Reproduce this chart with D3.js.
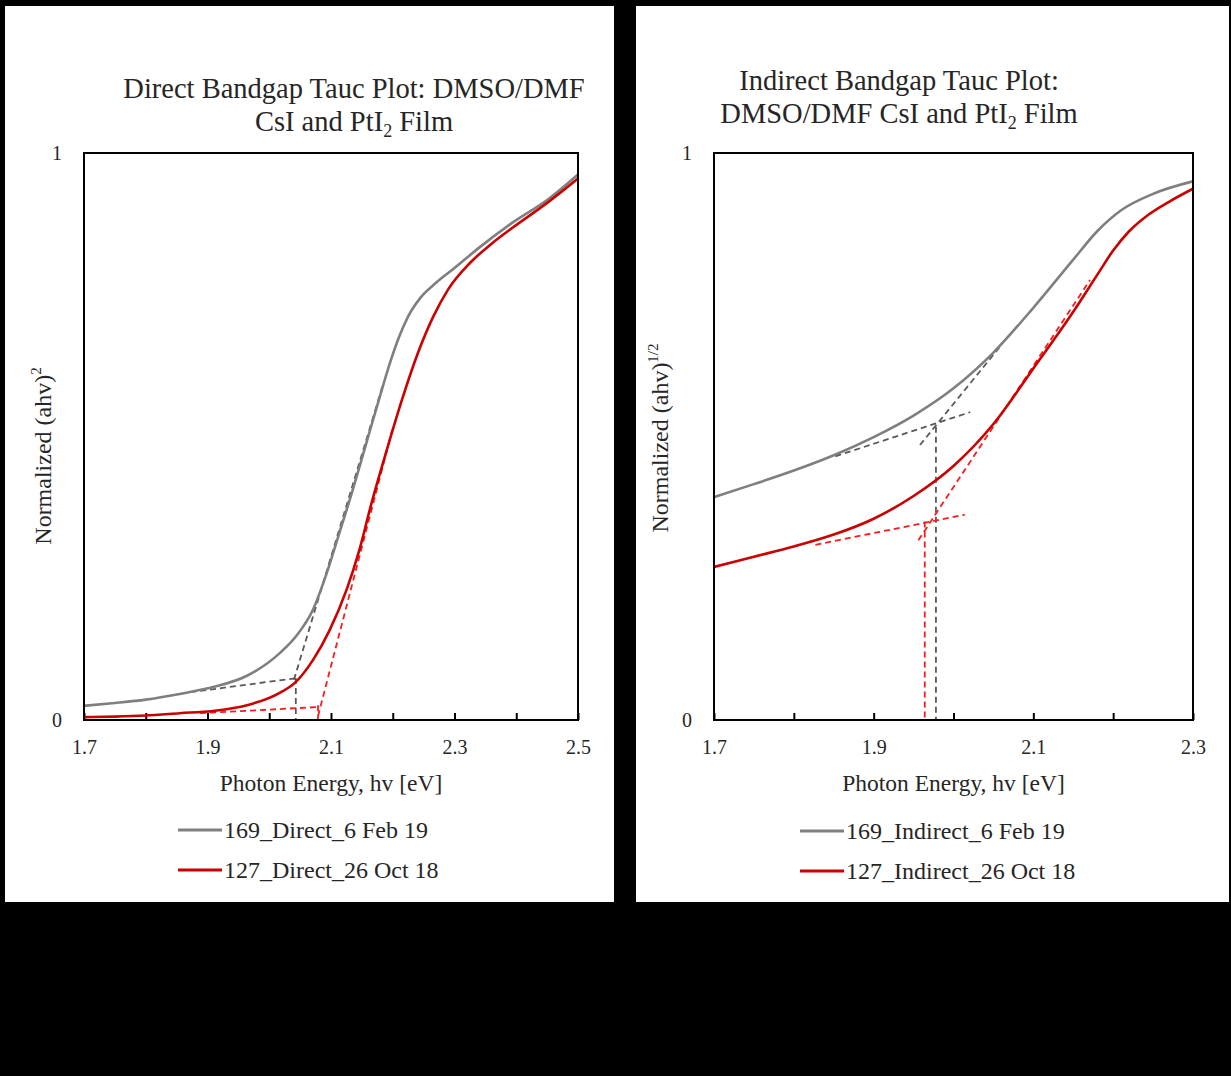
<!DOCTYPE html>
<html>
<head>
<meta charset="utf-8">
<script src="https://cdn.jsdelivr.net/npm/d3@7"></script>
<style>
  body { margin: 0; background: #000; }
  svg { display: block; }
  text { font-family: "Liberation Serif", "DejaVu Serif", serif; fill: #262626; }
</style>
</head>
<body>
<svg id="chart" width="1231" height="1076"></svg>
<script>
// direct bandgap (ahv)^2, normalized
const directGrayE = [1.70, 1.75, 1.80, 1.855, 1.909, 1.964, 2.017, 2.045, 2.071, 2.094, 2.115, 2.135, 2.155, 2.179, 2.195, 2.21, 2.225, 2.245, 2.27, 2.30, 2.341, 2.395, 2.45, 2.50];
const directGrayY = [0.025, 0.030, 0.036, 0.046, 0.058, 0.078, 0.118, 0.150, 0.195, 0.262, 0.335, 0.405, 0.480, 0.570, 0.628, 0.675, 0.712, 0.745, 0.771, 0.797, 0.834, 0.878, 0.917, 0.962];
const directRedE = [1.70, 1.75, 1.80, 1.855, 1.909, 1.964, 2.017, 2.041, 2.071, 2.098, 2.125, 2.146, 2.165, 2.19, 2.215, 2.24, 2.265, 2.29, 2.325, 2.36, 2.395, 2.45, 2.50];
const directRedY = [0.005, 0.006, 0.008, 0.012, 0.016, 0.026, 0.048, 0.065, 0.106, 0.159, 0.229, 0.300, 0.380, 0.475, 0.565, 0.645, 0.710, 0.760, 0.806, 0.840, 0.869, 0.912, 0.955];

// indirect bandgap (ahv)^1/2, normalized
const indirectGrayE = [1.70, 1.75, 1.80, 1.85, 1.90, 1.95, 2.00, 2.05, 2.10, 2.15, 2.18, 2.21, 2.25, 2.30];
const indirectGrayY = [0.393, 0.416, 0.440, 0.467, 0.499, 0.537, 0.585, 0.648, 0.727, 0.812, 0.862, 0.899, 0.928, 0.950];
const indirectRedE = [1.70, 1.75, 1.80, 1.85, 1.90, 1.95, 2.00, 2.05, 2.10, 2.15, 2.18, 2.20, 2.22, 2.245, 2.27, 2.30];
const indirectRedY = [0.270, 0.288, 0.306, 0.327, 0.355, 0.395, 0.448, 0.522, 0.620, 0.720, 0.785, 0.828, 0.862, 0.892, 0.914, 0.937];

// tangent / fit lines [e1, y1, e2, y2]
const directGrayFits = [[1.872, 0.049, 2.045, 0.074], [2.040, 0.071, 2.184, 0.591], [2.043, 0.074, 2.043, 0]];
const directRedFits = [[1.888, 0.012, 2.082, 0.023], [2.079, 0.007, 2.200, 0.515], [2.079, 0.026, 2.079, 0]];
const indirectGrayFits = [[1.852, 0.465, 2.021, 0.543], [1.958, 0.485, 2.058, 0.658], [1.978, 0.517, 1.978, 0]];
const indirectRedFits = [[1.827, 0.309, 2.014, 0.362], [1.956, 0.317, 2.171, 0.776], [1.964, 0.350, 1.964, 0]];

const directTicks = [1.7, 1.8, 1.9, 2.0, 2.1, 2.2, 2.3, 2.4, 2.5];
const directLabels = [1.7, 1.9, 2.1, 2.3, 2.5];
const indirectTicks = [1.7, 1.8, 1.9, 2.0, 2.1, 2.2, 2.3];
const indirectLabels = [1.7, 1.9, 2.1, 2.3];

const gray = "#7f7f7f", red = "#cc0000";
const grayDash = "#595959", redDash = "#ff1a1a";

const svg = d3.select("#chart");

// white panels on black background
svg.append("rect").attr("x", 5).attr("y", 6).attr("width", 609).attr("height", 896).attr("fill", "#fff");
svg.append("rect").attr("x", 636).attr("y", 6).attr("width", 593).attr("height", 896).attr("fill", "#fff");

function drawPanel(p) {
  const x = d3.scaleLinear().domain(p.xDomain).range([p.left, p.right]);
  const y = d3.scaleLinear().domain([0, 1]).range([p.bottom, p.top]);
  const g = svg.append("g");

  // title
  p.title.forEach((line, i) => {
    const t = g.append("text").attr("x", p.titleX).attr("y", p.titleY + i * 33)
      .attr("text-anchor", "middle").style("font-size", "28.5px");
    line.forEach(part => {
      const ts = t.append("tspan").text(part.t);
      if (part.sub) ts.attr("dy", 6).style("font-size", "18px");
      if (part.after) ts.attr("dy", -6);
    });
  });

  const clipId = "clip" + p.id;
  g.append("clipPath").attr("id", clipId).append("rect")
    .attr("x", p.left).attr("y", p.top).attr("width", p.right - p.left).attr("height", p.bottom - p.top);

  // x axis with inner ticks
  const xAxis = d3.axisBottom(x).tickValues(p.ticks).tickSize(-7).tickPadding(20)
    .tickFormat(d => p.labels.some(l => Math.abs(l - d) < 1e-9) ? d3.format(".1f")(d) : "");
  const ax = g.append("g").attr("transform", `translate(0,${p.bottom})`).call(xAxis);
  ax.select(".domain").remove();
  ax.selectAll("line").attr("stroke", "#000").attr("stroke-width", 2);
  ax.selectAll("text").style("font-size", "20px").style("font-family", "Liberation Serif").attr("fill", "#262626");

  const yAxis = d3.axisLeft(y).tickValues([0, 1]).tickSize(0).tickPadding(22).tickFormat(d3.format("d"));
  const ay = g.append("g").attr("transform", `translate(${p.left},0)`).call(yAxis);
  ay.select(".domain").remove();
  ay.selectAll("text").style("font-size", "20px").style("font-family", "Liberation Serif").attr("fill", "#262626");

  const plot = g.append("g").attr("clip-path", `url(#${clipId})`);

  // tangent lines
  const fit = (arr, color) => plot.selectAll(null).data(arr).enter().append("line")
    .attr("x1", d => x(d[0])).attr("y1", d => y(d[1]))
    .attr("x2", d => x(d[2])).attr("y2", d => y(d[3]))
    .attr("stroke", color).attr("stroke-width", 1.8).attr("stroke-dasharray", "6,4");
  fit(p.grayFits, grayDash);
  fit(p.redFits, redDash);

  const line = d3.line().x(d => x(d[0])).y(d => y(d[1])).curve(d3.curveMonotoneX);
  const series = [
    { e: p.grayE, v: p.grayY, c: gray },
    { e: p.redE, v: p.redY, c: red }
  ];
  series.forEach(s => {
    plot.append("path").datum(s.e.map((e, i) => [e, s.v[i]]))
      .attr("fill", "none").attr("stroke", s.c).attr("stroke-width", 2.6).attr("d", line);
  });

  // frame
  g.append("rect").attr("x", p.left).attr("y", p.top)
    .attr("width", p.right - p.left).attr("height", p.bottom - p.top)
    .attr("fill", "none").attr("stroke", "#000").attr("stroke-width", 2);

  // axis titles
  const cx = (p.left + p.right) / 2;
  g.append("text").attr("x", cx).attr("y", p.bottom + 71).attr("text-anchor", "middle")
    .style("font-size", "23.5px").text("Photon Energy, hv [eV]");

  const yl = g.append("text").attr("transform", `translate(${p.yLabelX},${p.yLabelY}) rotate(-90)`)
    .attr("text-anchor", "middle").style("font-size", "24px");
  yl.append("tspan").text("Normalized (ahv)");
  yl.append("tspan").attr("dy", -10).style("font-size", "15px").text(p.yExp);

  // legend
  p.legend.forEach((name, i) => {
    const ly = p.legendY + i * 40;
    g.append("line").attr("x1", p.legendX).attr("x2", p.legendX + 44).attr("y1", ly).attr("y2", ly)
      .attr("stroke", i === 0 ? gray : red).attr("stroke-width", 3);
    g.append("text").attr("x", p.legendX + 46).attr("y", ly + 8).style("font-size", "24px").text(name);
  });
}

drawPanel({
  id: "direct", left: 84, right: 578, top: 153, bottom: 720, xDomain: [1.7, 2.5],
  ticks: directTicks, labels: directLabels,
  titleX: 354, titleY: 98,
  title: [[{ t: "Direct Bandgap Tauc Plot: DMSO/DMF" }],
          [{ t: "CsI and PtI" }, { t: "2", sub: true }, { t: " Film", after: true }]],
  yLabelX: 51, yLabelY: 456, yExp: "2",
  grayE: directGrayE, grayY: directGrayY, redE: directRedE, redY: directRedY,
  grayFits: directGrayFits, redFits: directRedFits,
  legend: ["169_Direct_6 Feb 19", "127_Direct_26 Oct 18"], legendX: 178, legendY: 830
});

drawPanel({
  id: "indirect", left: 714, right: 1193, top: 153, bottom: 720, xDomain: [1.7, 2.3],
  ticks: indirectTicks, labels: indirectLabels,
  titleX: 899, titleY: 90,
  title: [[{ t: "Indirect Bandgap Tauc Plot:" }],
          [{ t: "DMSO/DMF CsI and PtI" }, { t: "2", sub: true }, { t: " Film", after: true }]],
  yLabelX: 668, yLabelY: 438, yExp: "1/2",
  grayE: indirectGrayE, grayY: indirectGrayY, redE: indirectRedE, redY: indirectRedY,
  grayFits: indirectGrayFits, redFits: indirectRedFits,
  legend: ["169_Indirect_6 Feb 19", "127_Indirect_26 Oct 18"], legendX: 800, legendY: 831
});
</script>
</body>
</html>
